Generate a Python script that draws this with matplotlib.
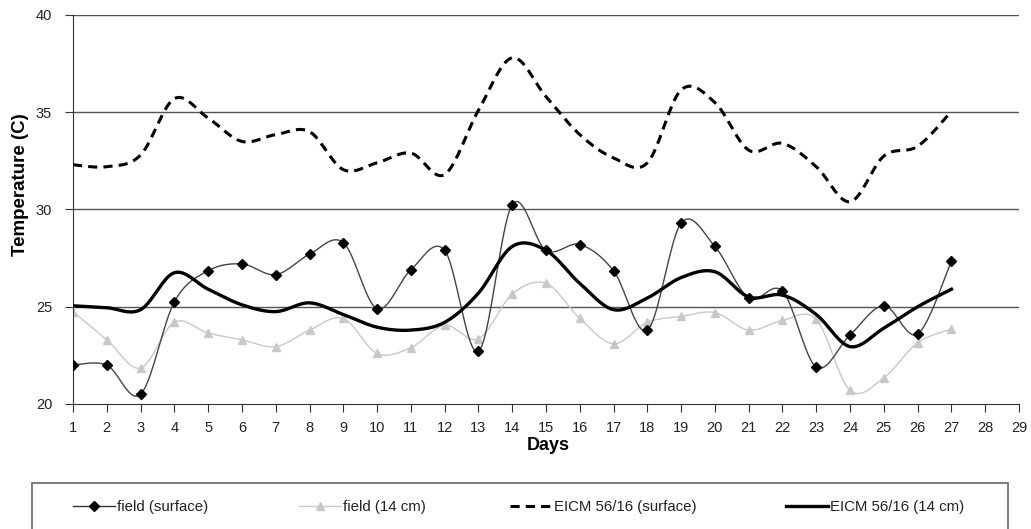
import numpy as np
import matplotlib
matplotlib.use("Agg")
import matplotlib.pyplot as plt
from matplotlib.lines import Line2D
from matplotlib.patches import Rectangle

plt.rcParams["font.family"] = ["Liberation Sans", "DejaVu Sans"]

days = list(range(1, 28))
field_surface = [22.0, 22.0, 20.5, 25.25, 26.85, 27.2, 26.65, 27.7, 28.3, 24.9,
                 26.9, 27.9, 22.7, 30.25, 27.9, 28.2, 26.85, 23.8, 29.3, 28.1,
                 25.45, 25.8, 21.9, 23.55, 25.05, 23.6, 27.35]
field_14cm = [24.75, 23.3, 21.85, 24.2, 23.65, 23.3, 22.95, 23.8, 24.4, 22.6,
              22.9, 24.05, 23.35, 25.65, 26.2, 24.4, 23.1, 24.2, 24.5, 24.7,
              23.8, 24.3, 24.35, 20.7, 21.35, 23.15, 23.85]
eicm_surface = [32.3, 32.2, 32.8, 35.7, 34.7, 33.5, 33.85, 34.0, 32.05, 32.4,
                32.9, 31.8, 35.1, 37.8, 35.8, 33.85, 32.65, 32.4, 36.15, 35.5,
                33.05, 33.4, 32.2, 30.4, 32.75, 33.25, 35.05]
eicm_14cm = [25.05, 24.95, 24.85, 26.75, 25.9, 25.1, 24.75, 25.2, 24.6, 23.95,
             23.8, 24.2, 25.7, 28.1, 27.9, 26.2, 24.85, 25.45, 26.5, 26.8,
             25.5, 25.6, 24.6, 22.95, 23.9, 25.0, 25.9]

xticks = list(range(1, 30))
yticks = [20, 25, 30, 35, 40]


def smooth(x, y, n=20):
    # spreadsheet-style smoothed line: cubic bezier through every point
    x = np.asarray(x, float)
    y = np.asarray(y, float)
    px = np.concatenate([[x[0]], x, [x[-1]]])
    py = np.concatenate([[y[0]], y, [y[-1]]])
    t = np.linspace(0, 1, n, endpoint=False)[:, None]
    xs, ys = [], []
    for i in range(1, len(x)):
        p0 = np.array([px[i], py[i]])
        p3 = np.array([px[i + 1], py[i + 1]])
        c1 = p0 + (p3 - np.array([px[i - 1], py[i - 1]])) / 6
        c2 = p3 - (np.array([px[i + 2], py[i + 2]]) - p0) / 6
        seg = ((1 - t) ** 3 * p0 + 3 * (1 - t) ** 2 * t * c1
               + 3 * (1 - t) * t ** 2 * c2 + t ** 3 * p3)
        xs.append(seg[:, 0])
        ys.append(seg[:, 1])
    xs.append([x[-1]])
    ys.append([y[-1]])
    return np.concatenate(xs), np.concatenate(ys)


W, H = 1031, 529
fig = plt.figure(figsize=(W / 100, H / 100), dpi=100)
ax = fig.add_axes([73 / W, 1 - 404 / H, (1019 - 73) / W, (404 - 15) / H])

for yv in yticks[1:]:
    ax.axhline(yv, color="#555555", lw=1.0, zorder=1)

sx, sy = smooth(days, field_14cm)
ax.plot(sx, sy, color="#c8c8c8", lw=1.0, zorder=2)
ax.plot(days, field_14cm, ls="none", marker="^", ms=6, color="#c8c8c8", zorder=2)

sx, sy = smooth(days, field_surface)
ax.plot(sx, sy, color="#444444", lw=1.0, zorder=3)
ax.plot(days, field_surface, ls="none", marker="D", ms=5, color="black", zorder=4)

sx, sy = smooth(days, eicm_surface)
ax.plot(sx, sy, color="black", lw=2.2, dashes=(3, 2), zorder=3)

sx, sy = smooth(days, eicm_14cm)
ax.plot(sx, sy, color="black", lw=2.4, zorder=3)

ax.set_xlim(1, 29)
ax.set_ylim(20, 40)
ax.set_xticks(xticks)
ax.set_yticks(yticks)
for s in ["top", "right"]:
    ax.spines[s].set_visible(False)
for s in ["left", "bottom"]:
    ax.spines[s].set_color("#333333")
ax.tick_params(axis="both", labelsize=10.5, color="#333333", labelcolor="#222222",
               length=6, direction="out")
ax.tick_params(axis="x", pad=6)
ax.tick_params(axis="y", pad=9)
ax.set_xlabel("Days", fontsize=13, fontweight="bold")
ax.set_ylabel("Temperature (C)", fontsize=13.5, fontweight="bold")
ax.xaxis.set_label_coords(0.502, -0.085)
ax.yaxis.set_label_coords(-0.047, 0.563)

# legend box along the bottom
fig.patches.append(Rectangle((32 / W, -0.02), (1008 - 32) / W, (H - 483) / H + 0.02,
                             transform=fig.transFigure, fill=False,
                             edgecolor="#666666", lw=1.2))
entries = [
    (Line2D([], [], color="#333333", lw=1.0, marker="D", ms=5, mfc="black", mec="black"),
     "field (surface)", 73),
    (Line2D([], [], color="#c8c8c8", lw=1.0, marker="^", ms=6), "field (14 cm)", 299),
    (Line2D([], [], color="black", lw=2.2, dashes=(3, 2)), "EICM 56/16 (surface)", 510),
    (Line2D([], [], color="black", lw=2.4), "EICM 56/16 (14 cm)", 786),
]
for h, lab, xp in entries:
    fig.legend([h], [lab], loc="center left", bbox_to_anchor=(xp / W, 1 - 507 / H),
               frameon=False, fontsize=10.8, handlelength=2.8, handletextpad=0.15,
               borderaxespad=0, borderpad=0, labelcolor="#222222")

fig.savefig("out.png", dpi=100)
